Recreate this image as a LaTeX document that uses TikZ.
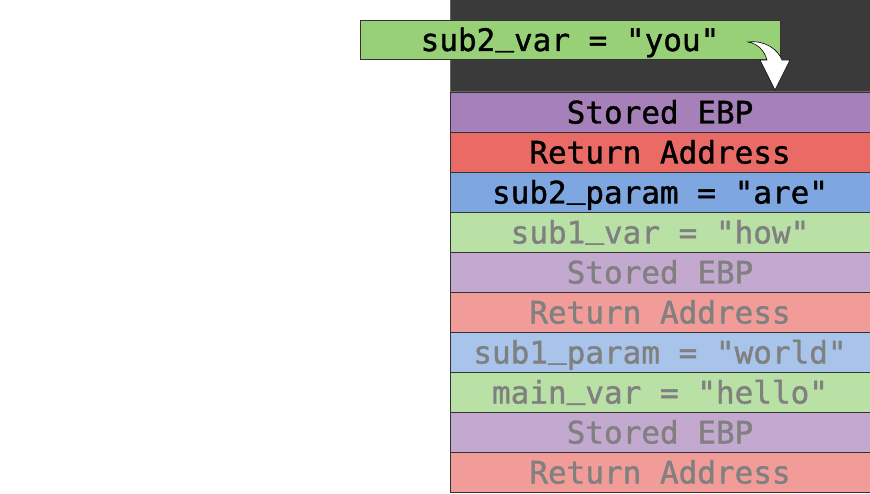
\documentclass[tikz,border=0pt]{standalone}
\usepackage{fontspec}
\newfontfamily\cellfont[FakeBold=1.2]{DejaVu Sans Mono}
\usetikzlibrary{
  positioning,
  calc
}
\definecolor{framedark}{HTML}{3A3A3A}
\definecolor{vargreen}{HTML}{97D077}
\definecolor{ebpmauve}{HTML}{A680B8}
\definecolor{retred}{HTML}{EA6B66}
\definecolor{parblue}{HTML}{7EA6E0}
\definecolor{oldgreen}{HTML}{B9E0A5}
\definecolor{oldmauve}{HTML}{C3A8CF}
\definecolor{oldred}{HTML}{F19C99}
\definecolor{oldblue}{HTML}{A9C4EB}
\definecolor{fadedink}{HTML}{808080}
\newcommand\lowbar{\raisebox{6pt}{\_}}
\tikzset{
  stackcell/.style={draw=black!80, line width=1pt, minimum width=420pt, minimum height=40pt,
    inner sep=0pt, text height=22pt, text depth=0pt, anchor=north,
    font=\cellfont\fontsize{31}{33}\selectfont},
  varbox/.style={stackcell, fill=vargreen, minimum height=39pt, anchor=center}
}

\begin{document}
\begin{tikzpicture}[x=1pt,y=-1pt]
	\useasboundingbox (0,0) rectangle (870,494);
	% frame of the current function
	\draw[fill=framedark, draw=black!60, line width=1pt] (450,0) rectangle (870,92);
	% the stack, from top to bottom
	\foreach \txt/\fc/\tc [count=\i] in {
		Stored EBP/ebpmauve/black,
		Return Address/retred/black,
		sub2\lowbar param = "are"/parblue/black,
		sub1\lowbar var = "how"/oldgreen/fadedink,
		Stored EBP/oldmauve/fadedink,
		Return Address/oldred/fadedink,
		sub1\lowbar param = "world"/oldblue/fadedink,
		main\lowbar var = "hello"/oldgreen/fadedink,
		Stored EBP/oldmauve/fadedink,
		Return Address/oldred/fadedink}
	{
		\node[stackcell, fill=\fc, text=\tc] (c\i) at (660,{92+40*(\i-1)}) {\txt};
	}
	\node[varbox] (var) at (570,40) {sub2\lowbar var = "you"};
	% push arrow
	\draw[fill=white, draw=black, line width=0.6pt]
		(748,42) .. controls (766,40) and (778,50) .. (782,60) -- (790,60)
		-- ($(c1.north)+(115,-2)$) -- (760,60) -- (767,60)
		.. controls (764,50) and (758,44) .. cycle;
\end{tikzpicture}
\end{document}
